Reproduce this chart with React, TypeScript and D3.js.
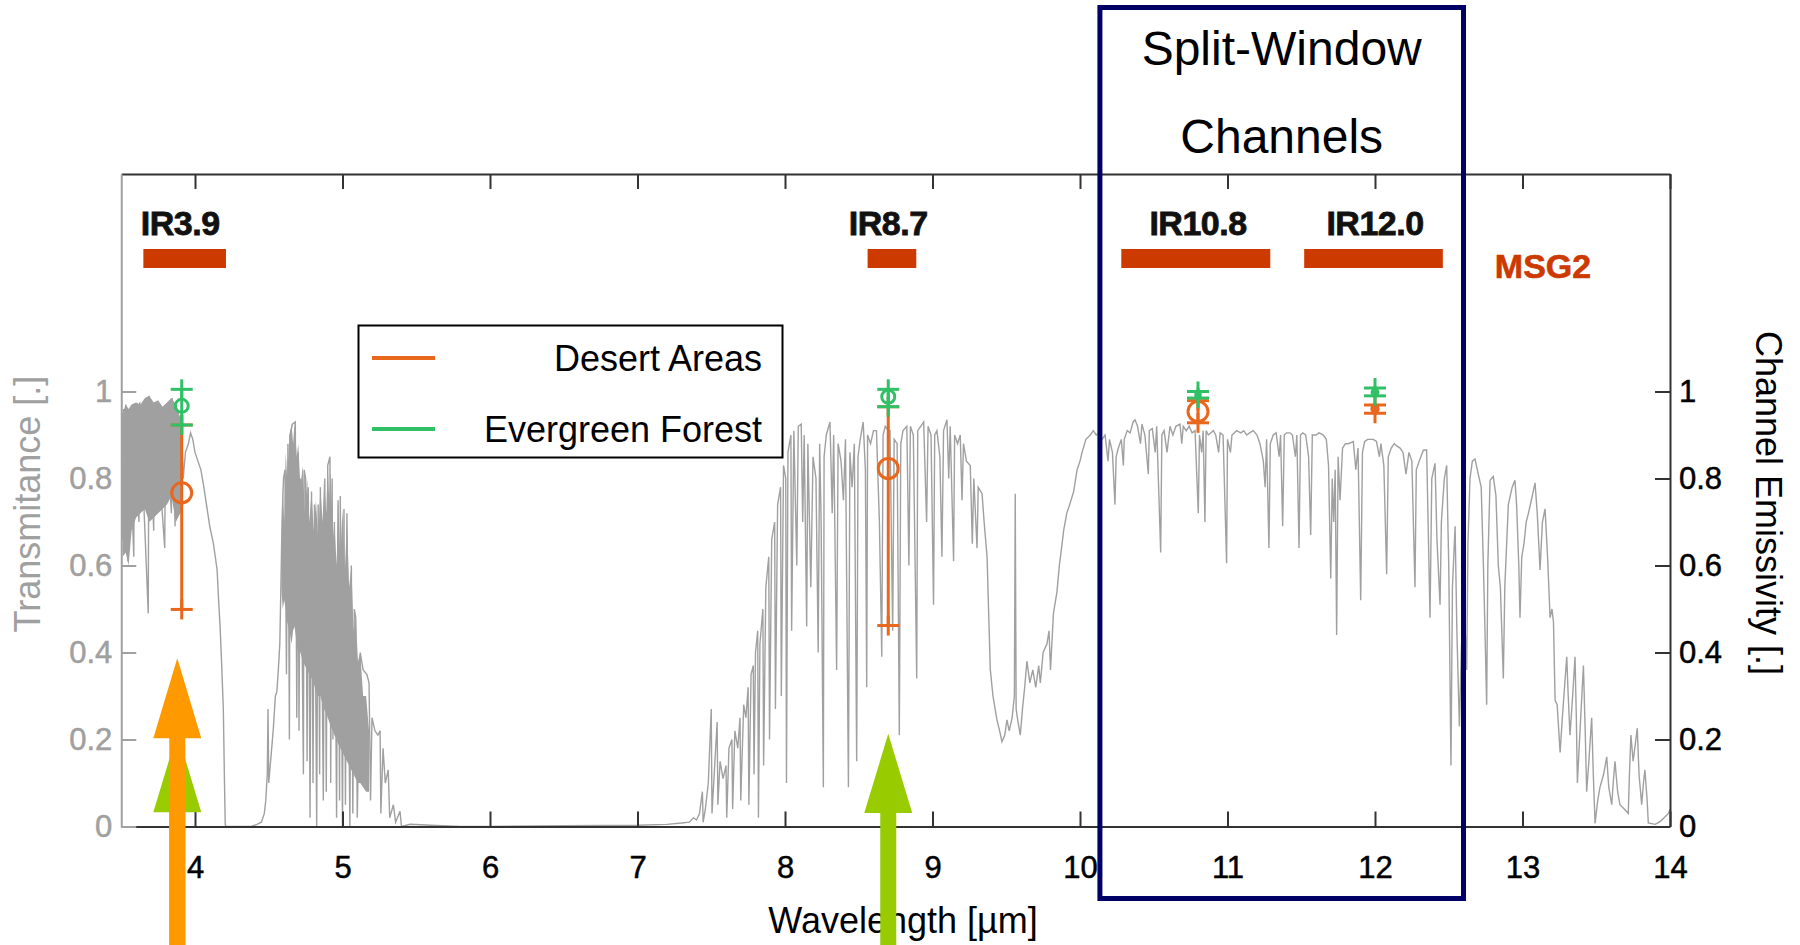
import React, { useEffect, useRef } from "react";
import * as d3 from "d3";

// MSG2 channels (µm)
const channelNames = ["IR3.9", "IR8.7", "IR10.8", "IR12.0"];
const channelCentres = [3.9, 8.7, 10.8, 12.0];
const channelStart = [3.65, 8.56, 10.28, 11.52];
const channelEnd = [4.21, 8.89, 11.29, 12.46];

// channel emissivity per land cover, lo / mean / hi
const pointWavelengths = [3.91, 8.7, 10.8, 12.0];
const desertLo = [0.499, 0.462, 0.928, 0.95];
const desertMean = [0.767, 0.823, 0.954, 0.96];
const desertHi = [0.923, 0.965, 0.979, 0.969];
const forestLo = [0.923, 0.965, 0.985, 0.99];
const forestMean = [0.967, 0.988, 0.992, 0.998];
const forestHi = [1.005, 1.005, 1.0, 1.008];

const wavelengthTicks = [4, 5, 6, 7, 8, 9, 10, 11, 12, 13, 14];
const valueTicks = [0, 0.2, 0.4, 0.6, 0.8, 1];

// dense absorption regions: [wavelength, low, high]
const denseBand1: [number, number, number][] = [
  [3.51, 0.62, 0.95], [3.53, 0.63, 0.97], [3.55, 0.6, 0.96], [3.57, 0.68, 0.97],
  [3.6, 0.71, 0.975], [3.63, 0.72, 0.97], [3.66, 0.73, 0.985], [3.69, 0.7, 0.99],
  [3.72, 0.71, 0.975], [3.75, 0.72, 0.98], [3.78, 0.73, 0.965], [3.81, 0.74, 0.975],
  [3.84, 0.76, 0.985], [3.87, 0.7, 0.97], [3.9, 0.72, 0.94], [3.915, 0.78, 0.9],
];
const denseBand2: [number, number, number][] = [
  [4.585, 0.55, 0.62], [4.595, 0.5, 0.78], [4.605, 0.52, 0.7], [4.615, 0.5, 0.86],
  [4.625, 0.47, 0.8], [4.64, 0.45, 0.9], [4.655, 0.42, 0.925], [4.665, 0.45, 0.88],
  [4.675, 0.46, 0.93], [4.69, 0.42, 0.85], [4.7, 0.4, 0.88], [4.715, 0.4, 0.78],
  [4.73, 0.38, 0.83], [4.745, 0.37, 0.72], [4.76, 0.36, 0.8], [4.775, 0.35, 0.7],
  [4.79, 0.34, 0.77], [4.805, 0.33, 0.68], [4.82, 0.31, 0.75], [4.835, 0.3, 0.66],
  [4.85, 0.3, 0.78], [4.865, 0.28, 0.7], [4.875, 0.27, 0.8], [4.89, 0.26, 0.72],
  [4.9, 0.25, 0.83], [4.91, 0.24, 0.75], [4.92, 0.23, 0.82], [4.935, 0.22, 0.66],
  [4.945, 0.21, 0.7], [4.96, 0.2, 0.6], [4.97, 0.19, 0.75], [4.985, 0.18, 0.62],
  [5.0, 0.17, 0.73], [5.015, 0.16, 0.58], [5.03, 0.15, 0.7], [5.045, 0.14, 0.55],
  [5.06, 0.13, 0.6], [5.075, 0.12, 0.45], [5.09, 0.11, 0.48], [5.105, 0.1, 0.38],
  [5.12, 0.1, 0.4], [5.14, 0.09, 0.3], [5.16, 0.08, 0.3], [5.18, 0.08, 0.22],
];

// atmospheric transmittance [wavelength, T]
const transmittance: [number, number][] = [
  [3.505, 0.95], [3.51, 0.66], [3.515, 0.96], [3.525, 0.63], [3.53, 0.97], [3.545, 0.61],
  [3.55, 0.96], [3.585, 0.62], [3.59, 0.97], [3.62, 0.7], [3.625, 0.975], [3.683, 0.49],
  [3.688, 0.99], [3.72, 0.68], [3.725, 0.975], [3.795, 0.64], [3.8, 0.97], [3.84, 0.72],
  [3.845, 0.985], [3.865, 0.69], [3.87, 0.97], [3.9, 0.72], [3.905, 0.94], [3.92, 0.8],
  [3.935, 0.86], [3.955, 0.88], [3.97, 0.905], [3.985, 0.89], [4.0, 0.86], [4.02, 0.84],
  [4.04, 0.82], [4.06, 0.78], [4.08, 0.735], [4.1, 0.69], [4.125, 0.65], [4.15, 0.59],
  [4.16, 0.52], [4.17, 0.46], [4.18, 0.38], [4.192, 0.27], [4.2, 0.1], [4.205, 0.005],
  [4.21, 0], [4.38, 0], [4.42, 0.005], [4.45, 0.01], [4.47, 0.03], [4.48, 0.06],
  [4.49, 0.12], [4.495, 0.27], [4.5, 0.1], [4.515, 0.16], [4.53, 0.22], [4.545, 0.3],
  [4.555, 0.31], [4.565, 0.36], [4.575, 0.42], [4.585, 0.6], [4.59, 0.7], [4.6, 0.8],
  [4.61, 0.82], [4.62, 0.35], [4.63, 0.88], [4.64, 0.2], [4.645, 0.9], [4.66, 0.925],
  [4.68, 0.93], [4.69, 0.25], [4.7, 0.86], [4.705, 0.22], [4.715, 0.8], [4.735, 0.12],
  [4.74, 0.82], [4.75, 0.8], [4.76, 0.15], [4.768, 0.78], [4.78, 0.02], [4.79, 0.77],
  [4.8, 0.1], [4.81, 0.74], [4.825, 0.0], [4.835, 0.74], [4.845, 0.12], [4.85, 0.78],
  [4.87, 0.06], [4.88, 0.8], [4.89, 0.08], [4.9, 0.83], [4.915, 0.85], [4.92, 0.1],
  [4.93, 0.8], [4.935, 0.2], [4.945, 0.7], [4.96, 0.02], [4.97, 0.75], [4.98, 0.06],
  [4.985, 0.76], [5.0, 0.0], [5.01, 0.73], [5.02, 0.05], [5.03, 0.72], [5.05, 0.0],
  [5.06, 0.6], [5.07, 0.03], [5.08, 0.5], [5.09, 0.48], [5.1, 0.02], [5.12, 0.4],
  [5.14, 0.36], [5.165, 0.35], [5.18, 0.33], [5.19, 0.06], [5.2, 0.25], [5.22, 0.22],
  [5.24, 0.21], [5.255, 0.22], [5.26, 0.03], [5.275, 0.18], [5.29, 0.1], [5.31, 0.13],
  [5.32, 0.02], [5.345, 0.05], [5.36, 0.01], [5.39, 0.035], [5.4, 0.0], [5.46, 0.005],
  [5.6, 0.003], [5.8, 0.0], [6.0, 0.0], [6.5, 0.002], [7.0, 0.003], [7.2, 0.005],
  [7.3, 0.008], [7.35, 0.01], [7.38, 0.02], [7.4, 0.015], [7.42, 0.03], [7.44, 0.08],
  [7.445, 0.01], [7.46, 0.04], [7.48, 0.1], [7.5, 0.27], [7.505, 0.03], [7.52, 0.12],
  [7.54, 0.24], [7.545, 0.05], [7.56, 0.15], [7.58, 0.11], [7.6, 0.14], [7.605, 0.02],
  [7.62, 0.18], [7.64, 0.2], [7.645, 0.04], [7.66, 0.22], [7.68, 0.18], [7.695, 0.25],
  [7.7, 0.06], [7.72, 0.28], [7.735, 0.25], [7.75, 0.32], [7.755, 0.05], [7.77, 0.35],
  [7.785, 0.37], [7.79, 0.12], [7.8, 0.4], [7.815, 0.45], [7.82, 0.02], [7.83, 0.42],
  [7.85, 0.5], [7.855, 0.14], [7.87, 0.55], [7.89, 0.62], [7.895, 0.2], [7.91, 0.66],
  [7.93, 0.7], [7.935, 0.27], [7.95, 0.74], [7.97, 0.78], [7.975, 0.3], [7.99, 0.83],
  [8.005, 0.8], [8.01, 0.1], [8.02, 0.86], [8.04, 0.9], [8.045, 0.45], [8.06, 0.91],
  [8.08, 0.6], [8.09, 0.92], [8.11, 0.925], [8.12, 0.7], [8.13, 0.9], [8.147, 0.46],
  [8.155, 0.88], [8.175, 0.55], [8.19, 0.85], [8.21, 0.8], [8.225, 0.4], [8.235, 0.88],
  [8.245, 0.7], [8.26, 0.09], [8.265, 0.85], [8.28, 0.9], [8.305, 0.93], [8.32, 0.72],
  [8.33, 0.9], [8.35, 0.36], [8.36, 0.88], [8.38, 0.84], [8.396, 0.75], [8.41, 0.89],
  [8.43, 0.09], [8.44, 0.86], [8.455, 0.78], [8.47, 0.88], [8.486, 0.15], [8.495, 0.85],
  [8.51, 0.89], [8.53, 0.93], [8.545, 0.82], [8.554, 0.32], [8.56, 0.9], [8.58, 0.88],
  [8.6, 0.91], [8.62, 0.91], [8.64, 0.7], [8.656, 0.39], [8.665, 0.9], [8.68, 0.92],
  [8.7, 0.91], [8.712, 0.91], [8.73, 0.45], [8.74, 0.89], [8.76, 0.88], [8.775, 0.21],
  [8.785, 0.88], [8.8, 0.91], [8.826, 0.92], [8.84, 0.6], [8.85, 0.92], [8.87, 0.9],
  [8.893, 0.34], [8.9, 0.91], [8.92, 0.92], [8.94, 0.93], [8.96, 0.7], [8.97, 0.92],
  [8.99, 0.9], [9.007, 0.51], [9.015, 0.9], [9.03, 0.91], [9.05, 0.85], [9.064, 0.62],
  [9.075, 0.91], [9.098, 0.935], [9.11, 0.8], [9.12, 0.92], [9.143, 0.61], [9.15, 0.9],
  [9.17, 0.88], [9.188, 0.9], [9.2, 0.75], [9.21, 0.88], [9.23, 0.84], [9.256, 0.83],
  [9.27, 0.65], [9.28, 0.8], [9.302, 0.64], [9.31, 0.78], [9.336, 0.765], [9.35, 0.7],
  [9.37, 0.62], [9.38, 0.5], [9.392, 0.36], [9.41, 0.3], [9.437, 0.245], [9.455, 0.22],
  [9.471, 0.195], [9.49, 0.21], [9.505, 0.245], [9.52, 0.22], [9.54, 0.25], [9.555, 0.3],
  [9.561, 0.765], [9.567, 0.27], [9.58, 0.24], [9.595, 0.21], [9.61, 0.27], [9.625, 0.32],
  [9.64, 0.38], [9.66, 0.33], [9.68, 0.36], [9.7, 0.32], [9.72, 0.37], [9.731, 0.33],
  [9.75, 0.4], [9.776, 0.42], [9.79, 0.45], [9.8, 0.36], [9.82, 0.49], [9.844, 0.54],
  [9.86, 0.6], [9.875, 0.64], [9.889, 0.68], [9.91, 0.72], [9.93, 0.74], [9.957, 0.77],
  [9.98, 0.82], [10.0, 0.84], [10.014, 0.86], [10.04, 0.89], [10.07, 0.9], [10.09, 0.91],
  [10.11, 0.9], [10.13, 0.905], [10.15, 0.89], [10.17, 0.9], [10.19, 0.84], [10.2, 0.89],
  [10.22, 0.86], [10.237, 0.74], [10.245, 0.85], [10.26, 0.87], [10.28, 0.89], [10.294, 0.83],
  [10.3, 0.89], [10.32, 0.91], [10.34, 0.905], [10.36, 0.93], [10.373, 0.935], [10.39, 0.92],
  [10.41, 0.88], [10.42, 0.925], [10.44, 0.9], [10.463, 0.81], [10.47, 0.91], [10.49, 0.915],
  [10.51, 0.86], [10.52, 0.92], [10.547, 0.63], [10.555, 0.9], [10.57, 0.91], [10.59, 0.86],
  [10.61, 0.92], [10.63, 0.9], [10.65, 0.92], [10.678, 0.925], [10.69, 0.88], [10.7, 0.92],
  [10.72, 0.91], [10.74, 0.92], [10.76, 0.905], [10.78, 0.91], [10.802, 0.72], [10.81, 0.9],
  [10.825, 0.86], [10.835, 0.91], [10.847, 0.7], [10.855, 0.91], [10.87, 0.9], [10.904, 0.91],
  [10.92, 0.9], [10.94, 0.86], [10.95, 0.905], [10.97, 0.9], [10.994, 0.605], [11.0, 0.89],
  [11.02, 0.86], [11.03, 0.9], [11.062, 0.91], [11.09, 0.905], [11.11, 0.91], [11.13, 0.9],
  [11.15, 0.905], [11.175, 0.91], [11.2, 0.9], [11.22, 0.88], [11.243, 0.84], [11.255, 0.78],
  [11.265, 0.89], [11.281, 0.64], [11.29, 0.88], [11.31, 0.9], [11.33, 0.905], [11.35, 0.85],
  [11.36, 0.9], [11.374, 0.69], [11.385, 0.9], [11.4, 0.905], [11.424, 0.905], [11.44, 0.9],
  [11.46, 0.85], [11.47, 0.9], [11.485, 0.64], [11.495, 0.9], [11.51, 0.905], [11.53, 0.9],
  [11.55, 0.85], [11.564, 0.67], [11.575, 0.9], [11.6, 0.9], [11.62, 0.905], [11.65, 0.9],
  [11.67, 0.89], [11.685, 0.83], [11.7, 0.57], [11.71, 0.8], [11.72, 0.7], [11.73, 0.82],
  [11.74, 0.44], [11.75, 0.85], [11.763, 0.75], [11.78, 0.87], [11.8, 0.88], [11.82, 0.88],
  [11.853, 0.885], [11.87, 0.82], [11.885, 0.87], [11.903, 0.52], [11.915, 0.86], [11.93, 0.885],
  [11.95, 0.89], [11.97, 0.89], [11.988, 0.89], [12.01, 0.885], [12.03, 0.85], [12.04, 0.88],
  [12.06, 0.83], [12.079, 0.58], [12.09, 0.85], [12.11, 0.87], [12.13, 0.88], [12.147, 0.875],
  [12.17, 0.87], [12.19, 0.86], [12.21, 0.81], [12.23, 0.86], [12.25, 0.84], [12.271, 0.55],
  [12.28, 0.82], [12.3, 0.84], [12.328, 0.865], [12.35, 0.866], [12.36, 0.7], [12.373, 0.48],
  [12.385, 0.8], [12.407, 0.835], [12.42, 0.66], [12.441, 0.51], [12.45, 0.7], [12.47, 0.8],
  [12.486, 0.83], [12.5, 0.6], [12.515, 0.14], [12.525, 0.55], [12.543, 0.69], [12.555, 0.45],
  [12.572, 0.23], [12.585, 0.4], [12.6, 0.55], [12.622, 0.36], [12.63, 0.65], [12.644, 0.8],
  [12.66, 0.84], [12.678, 0.845], [12.7, 0.81], [12.72, 0.78], [12.735, 0.6], [12.745, 0.46],
  [12.757, 0.28], [12.765, 0.6], [12.78, 0.796], [12.802, 0.805], [12.82, 0.76], [12.836, 0.6],
  [12.85, 0.55], [12.87, 0.34], [12.88, 0.55], [12.904, 0.74], [12.93, 0.78], [12.949, 0.796],
  [12.96, 0.74], [12.975, 0.6], [12.983, 0.48], [12.995, 0.62], [13.01, 0.65], [13.025, 0.7],
  [13.04, 0.72], [13.06, 0.75], [13.085, 0.79], [13.1, 0.72], [13.119, 0.59], [13.135, 0.7],
  [13.153, 0.73], [13.17, 0.62], [13.187, 0.48], [13.2, 0.5], [13.21, 0.47], [13.221, 0.29],
  [13.235, 0.28], [13.255, 0.17], [13.27, 0.25], [13.285, 0.32], [13.3, 0.39], [13.31, 0.3],
  [13.322, 0.21], [13.34, 0.3], [13.356, 0.39], [13.365, 0.25], [13.372, 0.1], [13.39, 0.22],
  [13.413, 0.37], [13.425, 0.22], [13.435, 0.08], [13.45, 0.15], [13.469, 0.25], [13.48, 0.12],
  [13.492, 0.007], [13.51, 0.06], [13.525, 0.09], [13.55, 0.12], [13.571, 0.16], [13.585, 0.09],
  [13.605, 0.05], [13.615, 0.1], [13.627, 0.15], [13.645, 0.08], [13.661, 0.05], [13.69, 0.04],
  [13.717, 0.03], [13.725, 0.12], [13.735, 0.21], [13.75, 0.15], [13.765, 0.19], [13.778, 0.226],
  [13.79, 0.12], [13.808, 0.05], [13.82, 0.1], [13.83, 0.13], [13.845, 0.06], [13.853, 0.008],
  [13.9, 0.005], [13.932, 0.011], [13.96, 0.02], [13.99, 0.03], [14.0, 0.04],
];

const FONT = "'Liberation Sans', Arial, Helvetica, sans-serif";
const GREY = "#a0a0a0";
const AXIS = "#333";
const RED = "#cc3a00";
const DESERT = "#e8671c";
const FOREST = "#30c066";
const NAVY = "#000066";

function drawChart(node: SVGSVGElement) {
  const svg = d3.select(node);
  svg.selectAll("*").remove();

  const left = 121.25;
  const right = 1670;
  const top = 174;
  const bottom = 826.5;

  const x = d3.scaleLinear().domain([3.5, 14]).range([left, right]);
  const y = d3.scaleLinear().domain([0, 1.5]).range([bottom, top]);

  svg.append("rect").attr("width", 1800).attr("height", 945).attr("fill", "#fff");

  svg
    .append("clipPath")
    .attr("id", "plotclip")
    .append("rect")
    .attr("x", left)
    .attr("y", top)
    .attr("width", right - left)
    .attr("height", bottom - top);

  // transmittance spectrum
  const spec = svg.append("g").attr("clip-path", "url(#plotclip)");
  const band = d3
    .area<[number, number, number]>()
    .x((d) => x(d[0]))
    .y0((d) => y(d[1]))
    .y1((d) => y(d[2]));
  [denseBand1, denseBand2].forEach((b) => {
    spec.append("path").attr("d", band(b)).attr("fill", GREY);
  });
  const line = d3
    .line<[number, number]>()
    .x((d) => x(d[0]))
    .y((d) => y(d[1]));
  spec
    .append("path")
    .attr("d", line(transmittance))
    .attr("fill", "none")
    .attr("stroke", GREY)
    .attr("stroke-width", 1.4)
    .attr("stroke-linejoin", "miter");

  // channel bars + labels
  svg
    .selectAll("rect.chan")
    .data(channelNames)
    .enter()
    .append("rect")
    .attr("class", "chan")
    .attr("x", (d, i) => x(channelStart[i]))
    .attr("width", (d, i) => x(channelEnd[i]) - x(channelStart[i]))
    .attr("y", 249)
    .attr("height", 19)
    .attr("fill", RED);
  svg
    .selectAll("text.chan")
    .data(channelNames)
    .enter()
    .append("text")
    .attr("class", "chan")
    .attr("x", (d, i) => x(channelCentres[i]))
    .attr("y", 235)
    .attr("text-anchor", "middle")
    .attr("font-family", FONT)
    .attr("font-weight", "bold")
    .attr("font-size", 34)
    .attr("letter-spacing", -0.5)
    .attr("fill", "#111")
    .attr("stroke", "#111")
    .attr("stroke-width", 0.8)
    .text((d) => d);
  svg
    .append("text")
    .attr("x", 1543)
    .attr("y", 278)
    .attr("text-anchor", "middle")
    .attr("font-family", FONT)
    .attr("font-weight", "bold")
    .attr("font-size", 34)
    .attr("fill", RED)
    .attr("stroke", RED)
    .attr("stroke-width", 0.6)
    .text("MSG2");

  // error bars: line between lo and hi, "+" caps, circle at mean
  const drawBars = (lo: number[], mean: number[], hi: number[], color: string, baseR: number) => {
    const g = svg.append("g").attr("stroke", color).attr("stroke-width", 3).attr("fill", "none");
    pointWavelengths.forEach((wl, i) => {
      const cx = x(wl);
      g.append("line").attr("x1", cx).attr("x2", cx).attr("y1", y(lo[i])).attr("y2", y(hi[i]));
      [lo[i], hi[i]].forEach((v) => {
        g.append("line").attr("x1", cx - 11).attr("x2", cx + 11).attr("y1", y(v)).attr("y2", y(v));
        g.append("line").attr("x1", cx).attr("x2", cx).attr("y1", y(v) - 10).attr("y2", y(v) + 10);
      });
      const r = Math.max(2, Math.min(baseR, (y(lo[i]) - y(hi[i])) / 2 - 1));
      g.append("circle").attr("cx", cx).attr("cy", y(mean[i])).attr("r", r);
    });
  };
  drawBars(desertLo, desertMean, desertHi, DESERT, 10);
  drawBars(forestLo, forestMean, forestHi, FOREST, 6.5);

  // legend
  const lg = svg.append("g");
  lg.append("rect")
    .attr("x", 358.5)
    .attr("y", 325.5)
    .attr("width", 424)
    .attr("height", 132)
    .attr("fill", "#fff")
    .attr("stroke", "#000")
    .attr("stroke-width", 2);
  const legendItems = ["Desert Areas", "Evergreen Forest"];
  const legendColors = [DESERT, FOREST];
  legendItems.forEach((label, i) => {
    const ly = 358 + i * 71;
    lg.append("line")
      .attr("x1", 372)
      .attr("x2", 435)
      .attr("y1", ly)
      .attr("y2", ly)
      .attr("stroke", legendColors[i])
      .attr("stroke-width", 4);
    lg.append("text")
      .attr("x", 762)
      .attr("y", ly + 13)
      .attr("text-anchor", "end")
      .attr("font-family", FONT)
      .attr("font-size", 36)
      .attr("fill", "#000")
      .text(label);
  });

  // axes
  const styleAxis = (g: any, color: string, textColor: string) => {
    g.attr("font-size", 31).attr("font-family", FONT);
    g.selectAll("text").attr("fill", textColor).attr("stroke", textColor).attr("stroke-width", 0.5);
    g.selectAll("line").attr("stroke", color).attr("stroke-width", 2);
    g.select(".domain").attr("stroke", color).attr("stroke-width", 2);
  };
  const xb = svg
    .append("g")
    .attr("transform", `translate(0,${bottom})`)
    .call(d3.axisBottom(x).tickValues(wavelengthTicks).tickSize(-15).tickSizeOuter(0).tickPadding(29));
  styleAxis(xb, AXIS, "#000");
  const xt = svg
    .append("g")
    .attr("transform", `translate(0,${top})`)
    .call(d3.axisTop(x).tickValues(wavelengthTicks).tickSize(-15).tickSizeOuter(0).tickFormat(() => ""));
  styleAxis(xt, AXIS, "#000");
  const yl = svg
    .append("g")
    .attr("transform", `translate(${left},0)`)
    .call(
      d3.axisLeft(y).tickValues(valueTicks).tickFormat(d3.format("~g")).tickSize(-15).tickSizeOuter(0).tickPadding(9)
    );
  styleAxis(yl, GREY, GREY);
  const yr = svg
    .append("g")
    .attr("transform", `translate(${right},0)`)
    .call(
      d3.axisRight(y).tickValues(valueTicks).tickFormat(d3.format("~g")).tickSize(-15).tickSizeOuter(0).tickPadding(9)
    );
  styleAxis(yr, AXIS, "#000");

  svg
    .append("text")
    .attr("x", x(8.8))
    .attr("y", 933)
    .attr("text-anchor", "middle")
    .attr("font-family", FONT)
    .attr("font-size", 36)
    .text("Wavelength [µm]");
  svg
    .append("text")
    .attr("transform", "translate(40,504) rotate(-90)")
    .attr("text-anchor", "middle")
    .attr("font-family", FONT)
    .attr("font-size", 36)
    .attr("fill", GREY)
    .text("Transmitance [.]");
  svg
    .append("text")
    .attr("transform", "translate(1756,503) rotate(90)")
    .attr("text-anchor", "middle")
    .attr("font-family", FONT)
    .attr("font-size", 36)
    .attr("fill", "#000")
    .text("Channel Emissivity [.]");

  // arrows pointing at the channels
  const arrow = (wl: number, tipV: number, baseV: number, color: string) => {
    const cx = x(wl);
    const tipY = y(tipV);
    const baseY = y(baseV);
    const p = d3.path();
    p.moveTo(cx, tipY);
    p.lineTo(cx + 24, baseY);
    p.lineTo(cx + 8, baseY);
    p.lineTo(cx + 8, 945);
    p.lineTo(cx - 8, 945);
    p.lineTo(cx - 8, baseY);
    p.lineTo(cx - 24, baseY);
    p.closePath();
    svg.append("path").attr("d", p.toString()).attr("fill", color);
  };
  arrow(3.88, 0.215, 0.033, "#99cc00");
  arrow(8.7, 0.213, 0.031, "#99cc00");
  arrow(3.88, 0.387, 0.203, "#ff9900");

  // split-window box
  svg
    .append("rect")
    .attr("x", x(10.135))
    .attr("y", 7.5)
    .attr("width", x(12.6) - x(10.135))
    .attr("height", 891)
    .attr("fill", "none")
    .attr("stroke", NAVY)
    .attr("stroke-width", 5);
  ["Split-Window", "Channels"].forEach((t, i) => {
    svg
      .append("text")
      .attr("x", (x(10.135) + x(12.6)) / 2)
      .attr("y", 65 + i * 88)
      .attr("text-anchor", "middle")
      .attr("font-family", FONT)
      .attr("font-size", 48)
      .attr("fill", "#000")
      .text(t);
  });
}

export default function App() {
  const ref = useRef<SVGSVGElement>(null);

  useEffect(() => {
    if (ref.current) drawChart(ref.current);
  }, []);

  return (
    <svg
      ref={ref}
      width={1800}
      height={945}
      style={{ position: "absolute", left: 0, top: 0, display: "block" }}
    />
  );
}
